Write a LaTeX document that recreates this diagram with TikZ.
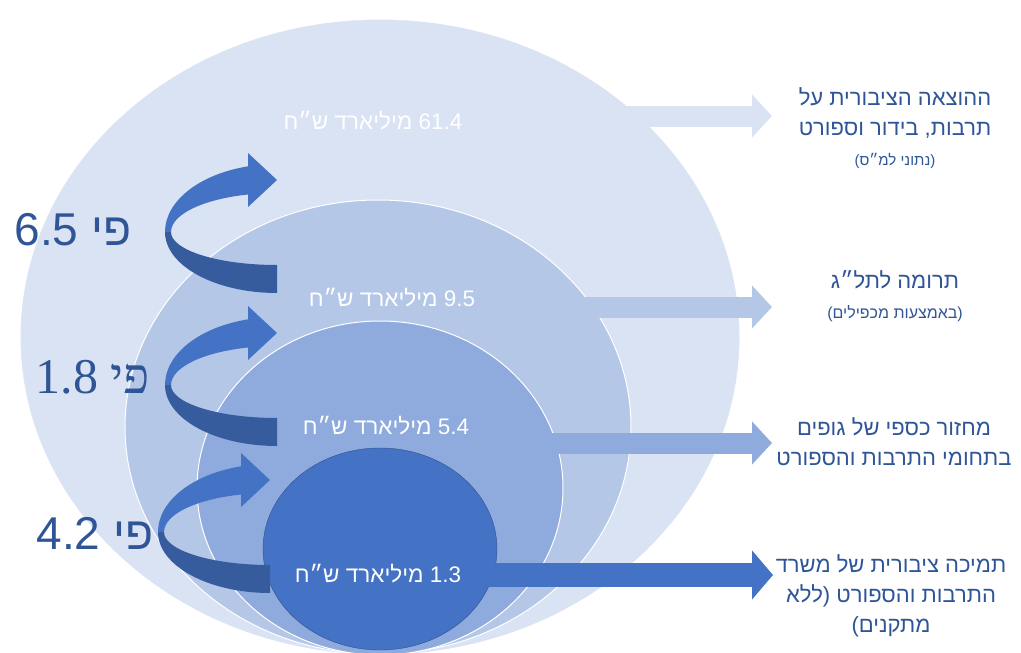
\documentclass[tikz,border=0pt]{standalone}
\usepackage{fontspec}
\setmainfont{Liberation Sans}
\newfontfamily\hebfont[Script=Hebrew]{Liberation Sans}
\newfontfamily\hebserif[Script=Hebrew]{Liberation Serif}
\TeXXeTstate=1
\usepackage{tikz}
\usetikzlibrary{positioning, shapes.geometric, arrows.meta}

\definecolor{lvl1}{HTML}{DAE3F3}
\definecolor{lvl2}{HTML}{B4C7E7}
\definecolor{lvl3}{HTML}{8FAADC}
\definecolor{lvl4}{HTML}{4472C4}
\definecolor{lvledge}{HTML}{2F528F}
\definecolor{curlback}{HTML}{365C9E}
\definecolor{txtblue}{HTML}{2F5597}

% curled arrow round the point (#1,#2)
\newcommand{\curlarrow}[2]{%
  \fill[curlback] (#1,#2+61) arc[start angle=90, end angle=180, x radius=112, y radius=61]
    -- (#1-106,#2) arc[start angle=180, end angle=90, x radius=106, y radius=33] -- cycle;
  \fill[lvl4] (#1-112,#2) arc[start angle=180, end angle=255, x radius=112, y radius=68]
    -- (#1-29,#2-79) -- (#1,#2-52) -- (#1-29,#2-25) -- (#1-29,#2-37.5)
    arc[start angle=254.1, end angle=180, x radius=106, y radius=39] -- cycle;
}

\begin{document}
\begin{tikzpicture}[x=1pt, y=-1pt,
    ring/.style={ellipse, draw=white, line width=1pt, inner sep=0pt},
    flow/.style={line width=21pt, -{Triangle[length=20pt, width=42pt]}},
    amount/.style={font=\hebfont\fontsize{22.5}{26}\selectfont, text=white},
    times/.style={font=\hebfont\fontsize{46}{50}\selectfont, text=txtblue},
    desc/.style={font=\hebfont\fontsize{22}{30}\selectfont, text=txtblue, align=center}]
        \useasboundingbox (0,0) rectangle (1021,653);

        \node[ring, fill=lvl1, minimum width=720pt, minimum height=636pt] (e1) at (380,337) {};
        \coordinate (tip1) at (772,116);
        \draw[flow, lvl1] (e1.center |- tip1) -- (tip1);

        \node[ring, fill=lvl2, minimum width=506pt, minimum height=454pt] (e2) at (378,427) {};
        \coordinate (tip2) at (772,307);
        \draw[flow, lvl2] (e2.center |- tip2) -- (tip2);

        \node[ring, fill=lvl3, minimum width=366pt, minimum height=334pt] (e3) at (380,488) {};
        \coordinate (tip3) at (772,443);
        \draw[flow, lvl3] (e3.center |- tip3) -- (tip3);

        \node[ellipse, draw=lvledge, fill=lvl4, inner sep=0pt, minimum width=234pt, minimum height=202pt] (e4) at (380,549) {};
        \coordinate (tip4) at (773,575);
        \draw[flow, lvl4, line width=24pt, -{Triangle[length=21pt, width=48pt]}] (e4.center |- tip4) -- (tip4);

        \node[amount] (sum1) at (373,121) {\beginR\beginL 61.4\endL{} מיליארד ש״ח\endR};
        \node[amount] (sum2) at (392,298) {\beginR\beginL 9.5\endL{} מיליארד ש״ח\endR};
        \node[amount] (sum3) at (386,426) {\beginR\beginL 5.4\endL{} מיליארד ש״ח\endR};
        \node[amount] (sum4) at (378,574) {\beginR\beginL 1.3\endL{} מיליארד ש״ח\endR};

        \curlarrow{277}{232}
        \curlarrow{277}{385}
        \curlarrow{270}{532}

        \node[times]                        (x1) at (73,230)  {\beginR פי \beginL 6.5\endL\endR};
        \node[times, font=\hebserif\fontsize{50}{54}\selectfont] (x2) at (93,377) {\beginR פי \beginL 1.8\endL\endR};
        \node[times]                        (x3) at (95,533)  {\beginR פי \beginL 4.2\endL\endR};

        \node[desc] (spend)   at (895,128) {\beginR ההוצאה הציבורית על\endR\\
            \beginR תרבות, בידור וספורט\endR\\
            {\fontsize{15}{20}\selectfont\beginR(נתוני למ״ס)\endR}};
        \node[desc] (gdp)     at (895,296) {\beginR תרומה לתל״ג\endR\\
            {\fontsize{16}{20}\selectfont\beginR(באמצעות מכפילים)\endR}};
        \node[desc] (revenue) at (894,442) {\beginR מחזור כספי של גופים\endR\\
            \beginR בתחומי התרבות והספורט\endR};
        \node[desc] (support) at (891,596) {\beginR תמיכה ציבורית של משרד\endR\\
            \beginR התרבות והספורט (ללא\endR\\
            \beginR מתקנים)\endR};
\end{tikzpicture}
\end{document}
